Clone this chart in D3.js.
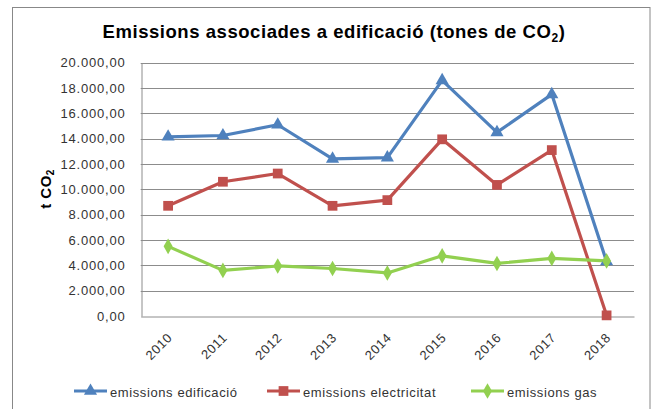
<!DOCTYPE html>
<html><head><meta charset="utf-8">
<script src="https://cdn.jsdelivr.net/npm/d3@7"></script>
<style>body{margin:0;background:#fff}svg{display:block}</style>
</head><body><svg id="c" width="651" height="409"></svg>
<script>
const years = ["2010","2011","2012","2013","2014","2015","2016","2017","2018"];
const edificacio = [14150,14250,15100,12400,12500,18600,14500,17500,4300];
const electricitat = [8700,10600,11250,8700,9150,13950,10350,13100,50];
const gas = [5500,3600,3950,3750,3400,4750,4150,4550,4350];
const yTicks = [0,2000,4000,6000,8000,10000,12000,14000,16000,18000,20000];
const seriesNames = ["emissions edificació","emissions electricitat","emissions gas"];

const series = [
  {name: seriesNames[0], values: edificacio, color: "#4F81BD", shape: d3.symbolTriangle},
  {name: seriesNames[1], values: electricitat, color: "#C0504D", shape: d3.symbolSquare},
  {name: seriesNames[2], values: gas, color: "#92D050", shape: d3.symbolDiamond}
];

const svg = d3.select("#c");
const m = {left: 140.7, right: 634, top: 62.7, bottom: 316};
const font = "'Liberation Sans', Arial, sans-serif";

svg.append("rect").attr("x",12.5).attr("y",7.5).attr("width",650-12.5).attr("height",420)
  .attr("fill","#fff").attr("stroke","#888").attr("stroke-width",1);

const x = d3.scaleBand().domain(years).range([m.left, m.right]);
const y = d3.scaleLinear().domain([0,20000]).range([m.bottom, m.top]);

const fmt = v => {
  const s = d3.format(",.2f")(v);
  return s.replace(/,/g,"#").replace(".",",").replace(/#/g,".");
};

// gridlines
svg.append("g").selectAll("line").data(yTicks.filter(d=>d>0)).join("line")
  .attr("x1", m.left).attr("x2", m.right)
  .attr("y1", d=>Math.round(y(d))+0.5).attr("y2", d=>Math.round(y(d))+0.5)
  .attr("stroke","#8c8c8c").attr("stroke-width",1);

// axes
const yAxis = svg.append("g").attr("transform",`translate(${Math.round(m.left)+0.5},0)`)
  .call(d3.axisLeft(y).tickValues(yTicks).tickFormat(fmt).tickSize(0).tickPadding(16));
yAxis.select(".domain").attr("stroke","#8c8c8c");
yAxis.selectAll("text").attr("font-family",font).attr("font-size","13px")
  .attr("letter-spacing","0.8px").attr("fill","#333");

const xAxis = svg.append("g").attr("transform",`translate(0,${Math.round(m.bottom)+0.5})`)
  .call(d3.axisBottom(x).tickSize(0).tickPadding(0));
xAxis.select(".domain").attr("stroke","#8c8c8c");
xAxis.selectAll("text").attr("font-family",font).attr("font-size","13px")
  .attr("letter-spacing","0.6px").attr("fill","#333")
  .attr("text-anchor","end").attr("dy","0")
  .attr("transform","translate(5,22) rotate(-45)");

// lines
const line = d3.line().x((d,i)=>x(years[i])+x.bandwidth()/2).y(d=>y(d));
series.forEach(s=>{
  svg.append("path").datum(s.values).attr("d",line)
    .attr("fill","none").attr("stroke",s.color).attr("stroke-width",3.2)
    .attr("stroke-linejoin","round");
});
const symSize = s => s===d3.symbolSquare?95:(s===d3.symbolDiamond?70:75);
series.forEach(s=>{
  const sym = d3.symbol().type(s.shape).size(symSize(s.shape));
  svg.append("g").selectAll("path").data(s.values).join("path")
    .attr("d",sym)
    .attr("transform",(d,i)=>`translate(${x(years[i])+x.bandwidth()/2},${y(d)})`)
    .attr("fill",s.color);
});

// title
const t = svg.append("text").attr("x",334).attr("y",37.5).attr("text-anchor","middle")
  .attr("font-family",font).attr("font-weight","bold").attr("font-size","18.5px")
  .attr("letter-spacing","0.55px").attr("fill","#000");
t.append("tspan").text("Emissions associades a edificació (tones de CO");
t.append("tspan").attr("font-size","12px").attr("dy","4").text("2");
t.append("tspan").attr("dy","-4").text(")");

// y label
const yl = svg.append("text").attr("transform","translate(51,189) rotate(-90)").attr("text-anchor","middle")
  .attr("font-family",font).attr("font-weight","bold").attr("font-size","15px")
  .attr("letter-spacing","0.5px").attr("fill","#000");
yl.append("tspan").text("t CO");
yl.append("tspan").attr("font-size","10px").attr("dy","3").text("2");

// legend
const legX = [74, 267, 471];
const lg = svg.append("g").selectAll("g").data(series).join("g")
  .attr("transform",(d,i)=>`translate(${legX[i]},391)`);
lg.append("line").attr("x1",0).attr("x2",33).attr("y1",0).attr("y2",0)
  .attr("stroke",d=>d.color).attr("stroke-width",3.2);
lg.append("path").attr("d",d=>d3.symbol().type(d.shape).size(symSize(d.shape))())
  .attr("transform","translate(16.5,0)").attr("fill",d=>d.color);
lg.append("text").attr("x",36).attr("y",5.5).text(d=>d.name)
  .attr("font-family",font).attr("font-size","13px").attr("letter-spacing","0.6px").attr("fill","#333");
</script></body></html>
